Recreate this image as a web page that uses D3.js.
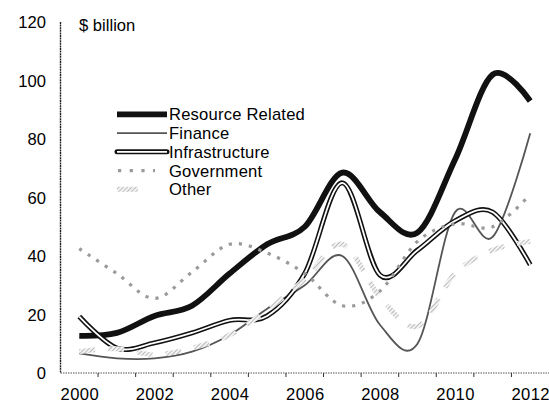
<!DOCTYPE html>
<html>
<head>
<meta charset="utf-8">
<script src="https://cdn.jsdelivr.net/npm/d3@7"></script>
<style>
  html, body { margin: 0; padding: 0; background: #fff; }
  svg { display: block; font-family: "Liberation Sans", Arial, sans-serif; }
</style>
</head>
<body>
<svg id="chart" width="549" height="405"></svg>
<script>
// ---- data ----
const years = ["2000","2001","2002","2003","2004","2005","2006","2007","2008","2009","2010","2011","2012"];
const resourceRelated = [12.7, 13.7, 19.5, 23, 34, 44, 50, 68.5, 55, 48, 73, 102, 93];
const finance         = [6.7, 5, 5, 7.3, 13, 22, 30, 40, 16.5, 10, 55, 46.5, 82];
const infrastructure  = [19.3, 8.5, 10.3, 13.7, 18, 19.5, 34, 65, 33.5, 42, 52, 55, 37];
const government      = [42.5, 34, 25.5, 34.5, 44, 41, 34, 23, 28, 45, 51, 50, 61];
const other           = [7.3, 8.3, 6.3, 8.5, 13, 21.5, 32, 44, 26, 16, 34, 42, 45];
const yTicks = [0, 20, 40, 60, 80, 100, 120];
const xTickLabels = ["2000","2002","2004","2006","2008","2010","2012"];
const seriesNames = ["Resource Related","Finance","Infrastructure","Government","Other"];
const unitLabel = "$ billion";

// ---- layout ----
const svg = d3.select("#chart");
const mLeft = 60.5, mRight = 549, mTop = 22, mBottom = 373;
const FS = 16.6;

const x = d3.scalePoint().domain(years).range([mLeft, mRight]).padding(0.5);
const xBand = d3.scaleBand().domain(years).range([mLeft, mRight]);
const y = d3.scaleLinear().domain([0, 120]).range([mBottom, mTop]);

const defs = svg.append("defs");
const pat = defs.append("pattern")
  .attr("id", "hatch").attr("patternUnits", "userSpaceOnUse")
  .attr("width", 3).attr("height", 3).attr("patternTransform", "rotate(45)");
pat.append("rect").attr("width", 3).attr("height", 3).attr("fill", "#f4f4f4");
pat.append("line").attr("x1", 0).attr("y1", 0).attr("x2", 0).attr("y2", 3)
  .attr("stroke", "#959595").attr("stroke-width", 1.2);

// ---- axes ----
svg.append("line").attr("x1", mLeft).attr("x2", mLeft).attr("y1", y(120)).attr("y2", y(0))
  .attr("stroke", "#222").attr("stroke-width", 1.4).attr("stroke-dasharray", "2 0.6");
svg.append("line").attr("x1", mLeft).attr("x2", mRight).attr("y1", y(0)).attr("y2", y(0))
  .attr("stroke", "#555").attr("stroke-width", 1).attr("stroke-dasharray", "1.5 1");

const tickPos = years.slice(1).map(d => xBand(d));
svg.append("g").selectAll("line").data(tickPos).join("line")
  .attr("x1", d => d).attr("x2", d => d)
  .attr("y1", y(0)).attr("y2", y(0) + 4)
  .attr("stroke", "#333").attr("stroke-width", 1);

const xAxis = d3.axisBottom(x).tickValues(xTickLabels).tickSize(0).tickPadding(0);
const gx = svg.append("g").attr("transform", `translate(0,${y(0) + 15.5})`).call(xAxis);
gx.select(".domain").remove();
gx.selectAll("text").attr("font-size", FS).attr("fill", "#000")
  .attr("font-family", "Liberation Sans, Arial, sans-serif").attr("dy", "0.71em")
  .attr("letter-spacing", 0.4);

const yAxis = d3.axisLeft(y).tickValues(yTicks).tickSize(0).tickPadding(0);
const gy = svg.append("g").attr("transform", `translate(${mLeft - 14.5},0)`).call(yAxis);
gy.select(".domain").remove();
gy.selectAll("text").attr("font-size", FS).attr("fill", "#000")
  .attr("font-family", "Liberation Sans, Arial, sans-serif").attr("dy", "0.35em");

svg.append("text").attr("x", 79).attr("y", 31).attr("font-size", FS).text(unitLabel);

// ---- lines ----
const line = d3.line()
  .x((d, i) => x(years[i]))
  .y(d => y(d))
  .curve(d3.curveCardinal.tension(0));

const g = svg.append("g");
g.append("path").attr("d", line(resourceRelated)).attr("fill", "none")
  .attr("stroke", "#111").attr("stroke-width", 5.8).attr("stroke-linejoin", "round");
g.append("path").attr("d", line(finance)).attr("fill", "none")
  .attr("stroke", "#555").attr("stroke-width", 1.8);
g.append("path").attr("d", line(infrastructure)).attr("fill", "none")
  .attr("stroke", "#111").attr("stroke-width", 5);
g.append("path").attr("d", line(infrastructure)).attr("fill", "none")
  .attr("stroke", "#fff").attr("stroke-width", 1.8);
g.append("path").attr("d", line(government)).attr("fill", "none")
  .attr("stroke", "#9a9a9a").attr("stroke-width", 3.2).attr("stroke-dasharray", "3.2 7");
g.append("path").attr("d", line(other)).attr("fill", "none")
  .attr("stroke", "url(#hatch)").attr("stroke-width", 5).attr("stroke-dasharray", "16 13");

// ---- legend ----
const legendRows = [
  {name: seriesNames[0], x1: 117, x2: 167},
  {name: seriesNames[1], x1: 117, x2: 167},
  {name: seriesNames[2], x1: 117, x2: 167},
  {name: seriesNames[3], x1: 118, x2: 155},
  {name: seriesNames[4], x1: 117, x2: 138}
];
const lg = svg.append("g");
legendRows.forEach((r, i) => {
  const base = 120.3 + 18.75 * i;
  const ly = base - 6;
  if (i === 0) {
    lg.append("line").attr("x1", r.x1).attr("x2", r.x2).attr("y1", ly).attr("y2", ly)
      .attr("stroke", "#111").attr("stroke-width", 5.8);
  } else if (i === 1) {
    lg.append("line").attr("x1", r.x1).attr("x2", r.x2).attr("y1", ly).attr("y2", ly)
      .attr("stroke", "#555").attr("stroke-width", 1.8);
  } else if (i === 2) {
    lg.append("line").attr("x1", r.x1).attr("x2", r.x2).attr("y1", ly).attr("y2", ly)
      .attr("stroke", "#111").attr("stroke-width", 5).attr("stroke-linecap", "round");
    lg.append("line").attr("x1", r.x1).attr("x2", r.x2).attr("y1", ly).attr("y2", ly)
      .attr("stroke", "#fff").attr("stroke-width", 1.8);
  } else if (i === 3) {
    lg.append("line").attr("x1", r.x1).attr("x2", r.x2).attr("y1", ly).attr("y2", ly)
      .attr("stroke", "#9a9a9a").attr("stroke-width", 3.2).attr("stroke-dasharray", "3.2 8.5");
  } else {
    lg.append("line").attr("x1", r.x1).attr("x2", r.x2).attr("y1", ly).attr("y2", ly)
      .attr("stroke", "url(#hatch)").attr("stroke-width", 5);
  }
  lg.append("text").attr("x", 169).attr("y", base).attr("font-size", FS)
    .attr("letter-spacing", 0.2).attr("fill", "#000").text(r.name);
});
</script>
</body>
</html>
